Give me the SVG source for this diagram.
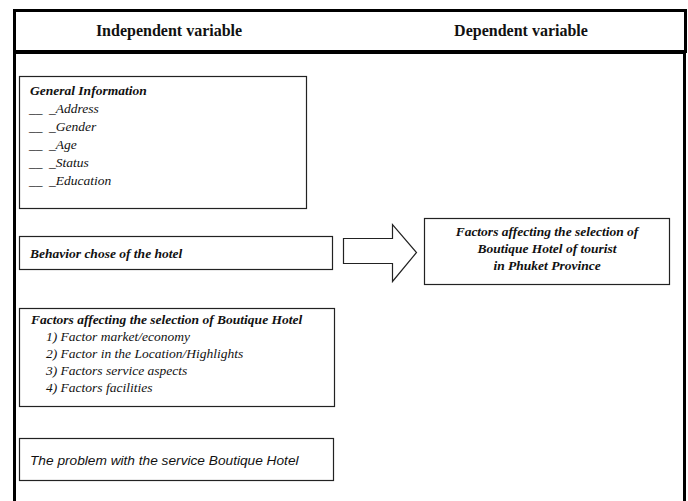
<svg xmlns="http://www.w3.org/2000/svg" width="688" height="501" viewBox="0 0 688 501">
<style>
.frame{fill:none;stroke:#000;stroke-width:3}
.box{fill:#fff;stroke:#222;stroke-width:1.2}
.hd{font-family:'Liberation Serif','Times New Roman',Times,serif;font-weight:700;font-size:16px;fill:#111}
.bi{font-family:'Liberation Serif','Times New Roman',Times,serif;font-weight:700;font-style:italic;font-size:13.5px;fill:#111}
.it{font-family:'Liberation Serif','Times New Roman',Times,serif;font-style:italic;font-size:13.5px;fill:#111}
.sa{font-family:'Liberation Sans',Arial,sans-serif;font-style:italic;font-size:13.7px;fill:#111}
</style>
<rect width="688" height="501" fill="#fff"/>
<g id="frame">
<rect class="frame" x="14.5" y="10.5" width="671" height="41"/>
<line x1="14.5" y1="52" x2="686" y2="52" stroke="#000" stroke-width="4"/>
<line x1="14.5" y1="50" x2="14.5" y2="501" stroke="#000" stroke-width="3"/>
<line x1="684.5" y1="52" x2="684.5" y2="501" stroke="#000" stroke-width="3"/>
<text class="hd" x="169" y="36" text-anchor="middle">Independent variable</text>
<text class="hd" x="521" y="36" text-anchor="middle">Dependent variable</text>
</g>
<g id="general">
<rect class="box" x="19.5" y="76.5" width="287" height="132"/>
<text class="bi" x="30" y="95">General Information</text>
<text class="it" x="29" y="113">__</text><text class="it" x="49" y="113">_Address</text>
<text class="it" x="29" y="131">__</text><text class="it" x="49" y="131">_Gender</text>
<text class="it" x="29" y="149">__</text><text class="it" x="49" y="149">_Age</text>
<text class="it" x="29" y="167">__</text><text class="it" x="49" y="167">_Status</text>
<text class="it" x="29" y="185">__</text><text class="it" x="49" y="185">_Education</text>
</g>
<g id="behavior">
<rect class="box" x="19.5" y="236.5" width="313" height="33"/>
<text class="bi" x="30" y="258">Behavior chose of the hotel</text>
</g>
<g id="result">
<rect class="box" x="424.5" y="218.5" width="245" height="66"/>
<text class="bi" x="547" y="236" text-anchor="middle">Factors affecting the selection of</text>
<text class="bi" x="547" y="253" text-anchor="middle">Boutique Hotel of tourist</text>
<text class="bi" x="547" y="270" text-anchor="middle">in Phuket Province</text>
</g>
<g id="factors">
<rect class="box" x="19.5" y="308.5" width="315" height="98"/>
<text class="bi" x="31" y="324">Factors affecting the selection of Boutique Hotel</text>
<text class="it" x="46" y="341">1) Factor market/economy</text>
<text class="it" x="46" y="358">2) Factor in the Location/Highlights</text>
<text class="it" x="46" y="375">3) Factors service aspects</text>
<text class="it" x="46" y="392">4) Factors facilities</text>
</g>
<g id="problem">
<rect class="box" x="19.5" y="438.5" width="314" height="42"/>
<text class="sa" x="30" y="465">The problem with the service Boutique Hotel</text>
</g>
<g id="connectors">
<path d="M343.5,238.5 H392.5 V224.5 L416.5,252.5 L392.5,281.5 V263.5 H343.5 Z" fill="#fff" stroke="#222" stroke-width="1.2"/>
</g>
</svg>
